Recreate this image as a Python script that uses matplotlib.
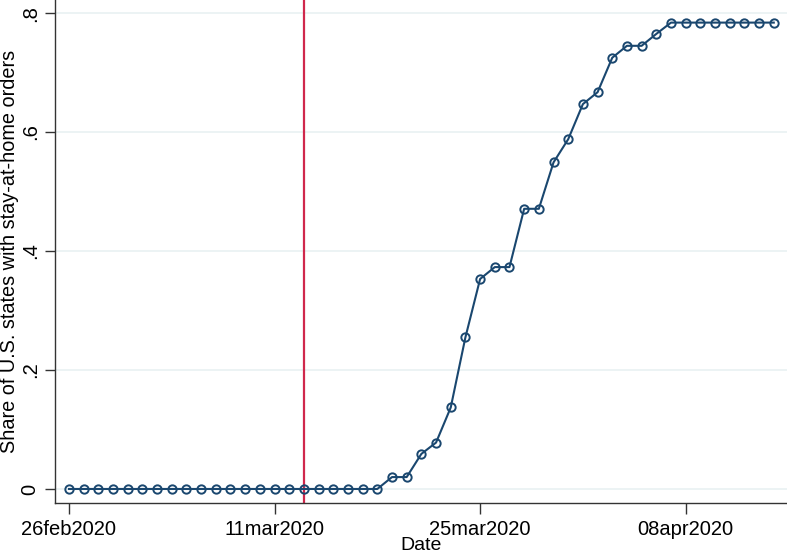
import matplotlib
matplotlib.use("Agg")
import matplotlib.pyplot as plt
import pandas as pd

plt.rcParams['font.family'] = ['Liberation Sans', 'DejaVu Sans']

dates = pd.date_range("2020-02-26", "2020-04-14", freq="D")
share = [0, 0, 0, 0, 0, 0, 0, 0, 0, 0,
         0, 0, 0, 0, 0, 0, 0, 0, 0, 0,
         0, 0, 0.020, 0.020, 0.059, 0.078, 0.137, 0.255, 0.353, 0.373,
         0.373, 0.471, 0.471, 0.549, 0.588, 0.647, 0.667, 0.725, 0.745, 0.745,
         0.765, 0.784, 0.784, 0.784, 0.784, 0.784, 0.784, 0.784, 0.784]
event_date = pd.Timestamp("2020-03-13")
tick_dates = pd.to_datetime(["2020-02-26", "2020-03-11", "2020-03-25", "2020-04-08"])
tick_labels = ["26feb2020", "11mar2020", "25mar2020", "08apr2020"]
yticks = [0, 0.2, 0.4, 0.6, 0.8]
ytick_labels = ["0", ".2", ".4", ".6", ".8"]

navy = "#1a476f"
fig = plt.figure(figsize=(7.87, 5.56), dpi=100)
ax = fig.add_axes([0.0699, 0.0953, 0.9301, 0.9047])

# light Stata-style gridlines
for y in yticks:
    ax.axhline(y, color="#eaf2f3", lw=1.3, zorder=0)

ax.axvline(event_date, color="#d0284c", lw=1.6, zorder=1)
ax.plot(dates, share, color=navy, lw=1.5, marker="o", markersize=6,
        markerfacecolor="none", markeredgecolor=navy, markeredgewidth=1.4, zorder=3)

ax.set_xlim(dates[0] - pd.Timedelta(days=0.95), dates[0] + pd.Timedelta(days=48.9))
ax.set_ylim(-0.0236, 0.822)
ax.set_xticks(tick_dates)
ax.set_xticklabels(tick_labels)
ax.set_yticks(yticks)
ax.set_yticklabels(ytick_labels, rotation=90, va="center")

for s in ["top", "right"]:
    ax.spines[s].set_visible(False)
for s in ["left", "bottom"]:
    ax.spines[s].set_color("#333333")
    ax.spines[s].set_linewidth(1.0)
ax.tick_params(axis="x", length=8, width=1, color="#333333", labelsize=14.5, pad=4)
ax.tick_params(axis="y", length=7, width=1, color="#333333", labelsize=14.5, pad=4)

ax.set_xlabel("Date", fontsize=14, labelpad=-1)
ax.set_ylabel("Share of U.S. states with stay-at-home orders", fontsize=14.3, labelpad=1.5)

fig.savefig("out.png", dpi=100)
